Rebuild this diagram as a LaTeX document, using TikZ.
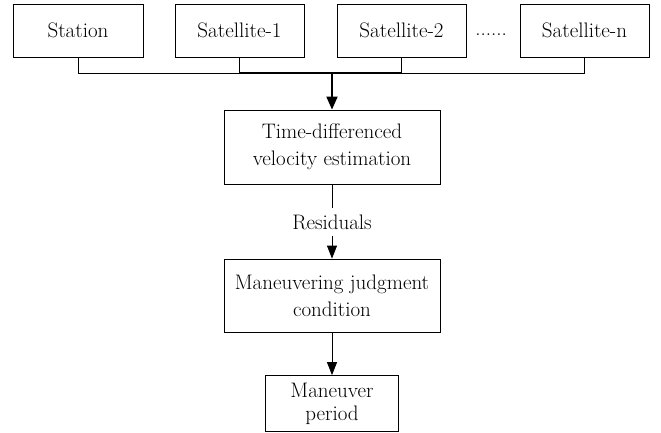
\documentclass[tikz,border=0pt]{standalone}
\usetikzlibrary{arrows.meta}
\begin{document}
\begin{tikzpicture}[x=1pt,y=-1pt,
  every node/.style={font=\rmfamily\fontsize{21}{27}\selectfont},
  box/.style={draw,line width=0.8pt,inner sep=0pt,align=center},
  topbox/.style={box,minimum width=129pt,minimum height=53pt},
  midbox/.style={box,minimum width=216pt,minimum height=73pt},
  thinline/.style={line width=0.8pt},
  midline/.style={line width=1.2pt},
  thickarr/.style={line width=1.8pt,-{Triangle[width=11pt,length=13pt]}},
  thinarr/.style={line width=0.9pt,-{Triangle[width=10pt,length=13pt]}},
  lbl/.style={inner sep=0pt}]
\useasboundingbox (0,0) rectangle (661,433);
\node[topbox,minimum width=130pt] (st) at (78,30.5) {Station};
\node[topbox] (s1) at (239.5,30.5) {Satellite-1};
\node[topbox] (s2) at (401.5,30.5) {Satellite-2};
\node[topbox] (sn) at (584.5,30.5) {Satellite-n};
\node[lbl,anchor=base] (dots) at (491,36) {......};
\coordinate (j) at (332,73);
\node[midbox,minimum height=74pt] (td) at (332,147) {Time-differenced\\velocity estimation};
\node[lbl,minimum height=27pt] (res) at (332,222) {Residuals};
\node[midbox] (mj) at (332,295.5) {Maneuvering judgment\\condition};
\node[box,minimum width=133pt,minimum height=56pt,
  font=\rmfamily\fontsize{21}{23}\selectfont] (mp) at (332,403.5) {Maneuver\\period};
\draw[thinline] (st.south) |- (s1.south|-j) -- (s1.south);
\draw[thinline] (sn.south) |- (s2.south|-j) -- (s2.south);
\draw[midline] (s1.south|-j) -- (s2.south|-j);
\draw[thickarr] (j) -- (td.north);
\draw[thinline] (td.south) -- (res.north);
\draw[thinarr] (res.south) -- (mj.north);
\draw[thinarr] (mj.south) -- (mp.north);
\end{tikzpicture}
\end{document}
